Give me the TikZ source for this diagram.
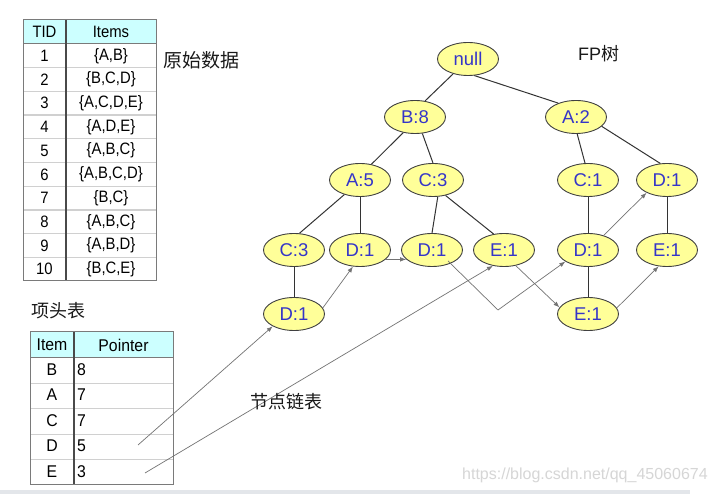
\documentclass[tikz,border=0pt]{standalone}
\usepackage{fontspec}
\setmainfont{Liberation Sans}
\newfontfamily\cjk{Noto Sans CJK SC}
\newfontfamily\tabfont[FakeStretch=0.9]{Liberation Sans}
\newfontfamily\tabfontb[FakeStretch=0.93]{Liberation Sans}
\usetikzlibrary{arrows.meta,calc,shapes.geometric}
\definecolor{nodefill}{HTML}{FFFF99}
\definecolor{nodeblue}{HTML}{3535C8}
\definecolor{headfill}{HTML}{CCFFFF}
\definecolor{rowgray}{HTML}{D0D0D0}
\definecolor{bordgray}{HTML}{7A7A7A}
\definecolor{divgray}{HTML}{4A4A4A}
\definecolor{wmgray}{HTML}{D6D6D6}
\definecolor{bandgray}{HTML}{E3E6EA}
\begin{document}
\begin{tikzpicture}[x=1pt,y=-1pt,
  fpn/.style={ellipse, draw=black!75, line width=0.9pt, fill=nodefill,
    minimum width=61pt, minimum height=33pt, inner sep=0pt, text=nodeblue,
    font=\fontsize{18.5}{20}\selectfont},
  tedge/.style={draw=black!80, line width=1pt},
  link/.style={draw=black!55, line width=0.7pt, -{Latex[length=6pt,width=4.5pt]}},
  cellA/.style={inner sep=0pt, font=\tabfont\fontsize{16.5}{18}\selectfont},
  cellB/.style={inner sep=0pt, font=\tabfontb\fontsize{17}{19}\selectfont},
  rowline/.style={draw=rowgray, line width=1.3pt},
  border/.style={draw=bordgray, line width=1pt},
  divline/.style={draw=divgray, line width=1.2pt},
  cjklabel/.style={inner sep=0pt, anchor=west, text=black!90},
]
\useasboundingbox (0,0) rectangle (716,494);
\fill[white] (0,0) rectangle (716,494);
\fill[bandgray] (0,490) rectangle (690,494);

% ---------- Table 1 ----------
\fill[headfill] (23,20) rectangle (156,44);
\foreach \k in {1,...,9} \draw[rowline] (23,{44+23.7*\k}) -- (156,{44+23.7*\k});
\draw[border] (23,44) -- (156,44);
\draw[divline] (66,20) -- (66,281);
\draw[border] (23,20) rectangle (156,281);
\node[cellA] (th1) at (44.5,32) {TID};
\node[cellA] (th2) at (111,32) {Items};
\foreach \t [count=\k] in {{\{A,B\}},{\{B,C,D\}},{\{A,C,D,E\}},{\{A,D,E\}},{\{A,B,C\}},{\{A,B,C,D\}},{\{B,C\}},{\{A,B,C\}},{\{A,B,D\}},{\{B,C,E\}}}{
  \node[cellA] (tid\k) at (44.5,{44+23.7*(\k-0.5)}) {\k};
  \node[cellA] (it\k) at (111,{44+23.7*(\k-0.5)}) {\t};
}
\node[cjklabel, font=\cjk\fontsize{19}{21}\selectfont] (lab1) at (163,60) {原始数据};

% ---------- Table 2 ----------
\node[cjklabel, font=\cjk\fontsize{18}{20}\selectfont] (lab2) at (31,311) {项头表};
\fill[headfill] (30,332) rectangle (173,358);
\foreach \k in {1,...,4} \draw[rowline] (30,{358+25.4*\k}) -- (173,{358+25.4*\k});
\draw[border] (30,358) -- (173,358);
\draw[divline] (74,332) -- (74,485);
\draw[border] (30,332) rectangle (173,485);
\node[cellB] (h1) at (52,345) {Item};
\node[cellB] (h2) at (123.5,345) {Pointer};
\foreach \a/\b [count=\k] in {B/8,A/7,C/7,D/5,E/3}{
  \node[cellB] (itm\a) at (52,{358+25.4*(\k-0.5)-1}) {\a};
  \node[cellB, anchor=west] (ptr\a) at (77,{358+25.4*(\k-0.5)-1}) {\b};
}

% ---------- FP tree ----------
\node[cjklabel, font=\fontsize{18}{20}\selectfont] (lab3) at (578,54) {FP{\cjk 树}};
\node[fpn] (null) at (468,59) {null};
\node[fpn] (B8) at (415,117) {B:8};
\node[fpn] (A2) at (576,117) {A:2};
\node[fpn] (A5) at (360,180) {A:5};
\node[fpn] (C3) at (433,180) {C:3};
\node[fpn] (C1) at (588,180) {C:1};
\node[fpn] (D1r) at (667,180) {D:1};
\node[fpn] (C3L) at (294,250) {C:3};
\node[fpn] (D1a) at (360,250) {D:1};
\node[fpn] (D1b) at (432,250) {D:1};
\node[fpn] (E1a) at (504,250) {E:1};
\node[fpn] (D1c) at (588,250) {D:1};
\node[fpn] (E1b) at (667,250) {E:1};
\node[fpn] (D1L) at (294,314) {D:1};
\node[fpn] (E1c) at (588,314) {E:1};

\draw[tedge] (null.225) -- (B8.58);
\draw[tedge] (null.291) -- (A2.142);
\draw[tedge] (B8.233) -- (A5.54);
\draw[tedge] (B8.294) -- (C3.90);
\draw[tedge] (A2.274) -- (C1.100);
\draw[tedge] (A2.340) -- (D1r.112);
\draw[tedge] (A5.223) -- (C3L.72);
\draw[tedge] (A5.south) -- (D1a.north);
\draw[tedge] (C3.286) -- (D1b.90);
\draw[tedge] (C3.309) -- (E1a.123);
\draw[tedge] (C1.south) -- (D1c.north);
\draw[tedge] (D1r.south) -- (E1b.north);
\draw[tedge] (C3L.south) -- (D1L.north);
\draw[tedge] (D1c.south) -- (E1c.north);

% ---------- node links ----------
\coordinate (pD) at (138,445);
\coordinate (pE) at (145,473);
\coordinate (bend) at (498,310);
\coordinate (startb) at ($(D1b.center)+(16,11)$);
\draw[link] (pD) -- (D1L.210);
\draw[link] (D1L.12) -- (D1a.247);
\draw[link] (D1a.340) -- (D1b.200);
\draw[link] (startb) -- (bend) -- (D1c.207);
\draw[link] (D1c.43) -- (D1r.212);
\draw[link] (pE) -- (E1a.235);
\draw[link] (E1a.307) -- (E1c.167);
\draw[link] (E1c.12) -- (E1b.243);

\node[cjklabel, font=\cjk\fontsize{18}{20}\selectfont] (lab4) at (250,402) {节点链表};

% watermark
\node[inner sep=0pt, anchor=west, text=wmgray, font=\fontsize{16}{18}\selectfont] (wm) at (462,475) {https://blog.csdn.net/qq\_45060674};
\end{tikzpicture}
\end{document}
